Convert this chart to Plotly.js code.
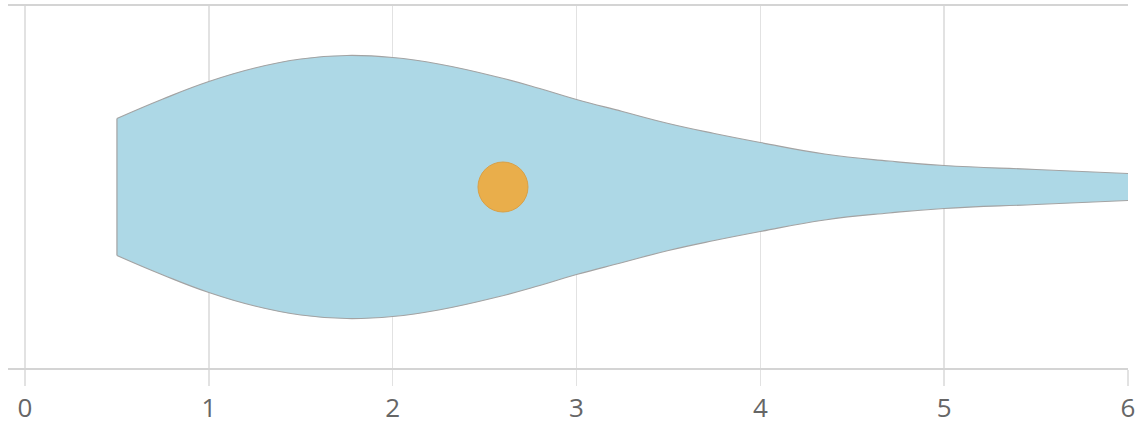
<!DOCTYPE html>
<html>
<head>
<meta charset="utf-8">
<script src="https://cdn.plot.ly/plotly-3.0.1.min.js"></script>
<style>html,body{margin:0;padding:0;background:#fff;}#chart{width:1136px;height:426px;}</style>
</head>
<body>
<div id="chart"></div>
<script>
// Violin outline: value positions and half-width (density)
const valuePositions = [0.5, 0.75, 1.0, 1.25, 1.5, 1.75, 2.0, 2.25, 2.57, 2.8, 3.0, 3.25, 3.5, 3.75, 4.0, 4.35, 4.7, 5.0, 5.5, 6.0];
const densityHalfWidth = [68.5, 88, 105.5, 119, 128, 131.5, 129.5, 123, 110, 98.5, 87.5, 75.5, 63.5, 53.5, 44.5, 33, 26, 21.5, 17.5, 13.5];
const meanValue = [2.6];
const meanPosition = [0];
const tickValues = [0, 1, 2, 3, 4, 5, 6];
const tickLabels = ['0', '1', '2', '3', '4', '5', '6'];

const upper = densityHalfWidth.map(d => d);
const lower = densityHalfWidth.map(d => -d);
const outline = {color: '#a3a3a3', width: 1.2};

const traces = [
  {x: valuePositions, y: upper, mode: 'lines', line: Object.assign({shape: 'spline', smoothing: 1.3}, outline), hoverinfo: 'skip', showlegend: false},
  {x: valuePositions, y: lower, mode: 'lines', fill: 'tonexty', fillcolor: '#ADD8E6', line: Object.assign({shape: 'spline', smoothing: 1.3}, outline), hoverinfo: 'skip', showlegend: false},
  {x: [valuePositions[0], valuePositions[0]], y: [upper[0], lower[0]], mode: 'lines', line: outline, hoverinfo: 'skip', showlegend: false},
  {x: meanValue, y: meanPosition, mode: 'markers', marker: {size: 50, color: '#E9AE4B', line: {color: '#D9A046', width: 1}}, showlegend: false}
];

const layout = {
  width: 1136, height: 426,
  margin: {l: 8, r: 8, t: 6, b: 58, pad: 0},
  paper_bgcolor: '#ffffff', plot_bgcolor: '#ffffff',
  showlegend: false,
  font: {family: 'Open Sans, sans-serif', color: '#666666'},
  xaxis: {
    range: [-0.0926, 6], tickvals: tickValues, ticktext: tickLabels,
    showgrid: true, gridcolor: '#e2e2e2', gridwidth: 1.5,
    zeroline: false,
    showline: true, linecolor: '#d4d4d4', linewidth: 2, mirror: true,
    ticks: 'outside', ticklen: 16, tickcolor: '#e2e2e2', tickwidth: 1.5,
    tickfont: {size: 26, color: '#666666', family: 'Open Sans, sans-serif'}
  },
  yaxis: {
    range: [-181, 181], showgrid: false, zeroline: false, showticklabels: false, showline: false, ticks: ''
  }
};

Plotly.newPlot('chart', traces, layout, {displayModeBar: false, staticPlot: true});
</script>
</body>
</html>
